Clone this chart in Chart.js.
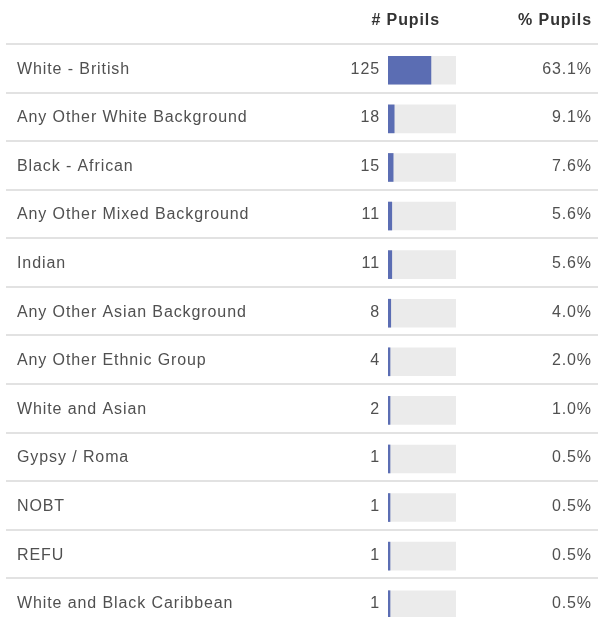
<!DOCTYPE html>
<html>
<head>
<meta charset="utf-8">
<script src="https://cdn.jsdelivr.net/npm/chart.js@4"></script>
<style>
  html, body { margin: 0; padding: 0; background: #fff; overflow: hidden; }
  #wrap { position: relative; width: 598px; height: 640px; }
</style>
</head>
<body>
<div id="wrap"><canvas id="pupilsChart"></canvas></div>
<script>
// Ethnicity breakdown of pupils
const categories = [
    'White - British',
    'Any Other White Background',
    'Black - African',
    'Any Other Mixed Background',
    'Indian',
    'Any Other Asian Background',
    'Any Other Ethnic Group',
    'White and Asian',
    'Gypsy / Roma',
    'NOBT',
    'REFU',
    'White and Black Caribbean'
];
const pupilCounts = [125, 18, 15, 11, 11, 8, 4, 2, 1, 1, 1, 1];
const pupilPercents = [63.1, 9.1, 7.6, 5.6, 5.6, 4.0, 2.0, 1.0, 0.5, 0.5, 0.5, 0.5];
const columnHeaders = ['# Pupils', '% Pupils'];

const totalPupils = pupilCounts.reduce((a, b) => a + b, 0);

const FONT = "'Liberation Sans', Arial, Helvetica, sans-serif";

// draws the table text and row separators around the in-cell bars
const tablePlugin = {
    id: 'tableText',
    beforeDatasetsDraw(chart) {
        const ctx = chart.ctx;
        const y = chart.scales.y;
        const band = y.getPixelForValue(1) - y.getPixelForValue(0);
        ctx.save();
        ctx.strokeStyle = '#e2e2e2';
        ctx.lineWidth = 2;
        for (let i = 0; i < categories.length; i++) {
            const top = Math.round(y.getPixelForValue(i) - band / 2) - 2;
            ctx.beginPath();
            ctx.moveTo(6, top);
            ctx.lineTo(598, top);
            ctx.stroke();
        }
        ctx.restore();
    },
    afterDraw(chart) {
        const ctx = chart.ctx;
        const y = chart.scales.y;
        ctx.save();
        ctx.letterSpacing = '0.9px';
        ctx.textBaseline = 'middle';

        // header
        ctx.font = 'bold 16px ' + FONT;
        ctx.fillStyle = '#333';
        ctx.textAlign = 'right';
        ctx.fillText(columnHeaders[0], 440, 21);
        ctx.fillText(columnHeaders[1], 592, 21);

        ctx.font = '16px ' + FONT;
        ctx.fillStyle = '#505050';
        categories.forEach((name, i) => {
            const cy = y.getPixelForValue(i) - 1;
            ctx.textAlign = 'left';
            ctx.fillText(name, 17, cy);
            ctx.textAlign = 'right';
            ctx.fillText(String(pupilCounts[i]), 380, cy);
            ctx.fillText(pupilPercents[i].toFixed(1) + '%', 592, cy);
        });
        ctx.restore();
    }
};

const pupilsCtx = document.getElementById('pupilsChart');
if (pupilsCtx) {
    new Chart(pupilsCtx, {
        type: 'bar',
        data: {
            labels: categories,
            datasets: [
                {
                    label: '# Pupils',
                    data: pupilCounts,
                    backgroundColor: '#5b6db3',
                    borderWidth: 0,
                    barThickness: 28,
                    minBarLength: 2,
                    grouped: false,
                    order: 1
                },
                {
                    label: 'track',
                    data: categories.map(() => totalPupils),
                    backgroundColor: '#ebebeb',
                    borderWidth: 0,
                    barThickness: 28,
                    grouped: false,
                    order: 2
                }
            ]
        },
        options: {
            indexAxis: 'y',
            responsive: true,
            maintainAspectRatio: false,
            animation: false,
            layout: {
                padding: { left: 388, right: 142, top: 46, bottom: 11 }
            },
            scales: {
                x: { display: false, min: 0, max: totalPupils },
                y: { display: false, offset: true }
            },
            plugins: {
                legend: { display: false },
                tooltip: { enabled: false }
            }
        },
        plugins: [tablePlugin]
    });
} else {
    console.warn('Canvas for pupils chart not found.');
}
</script>
</body>
</html>
